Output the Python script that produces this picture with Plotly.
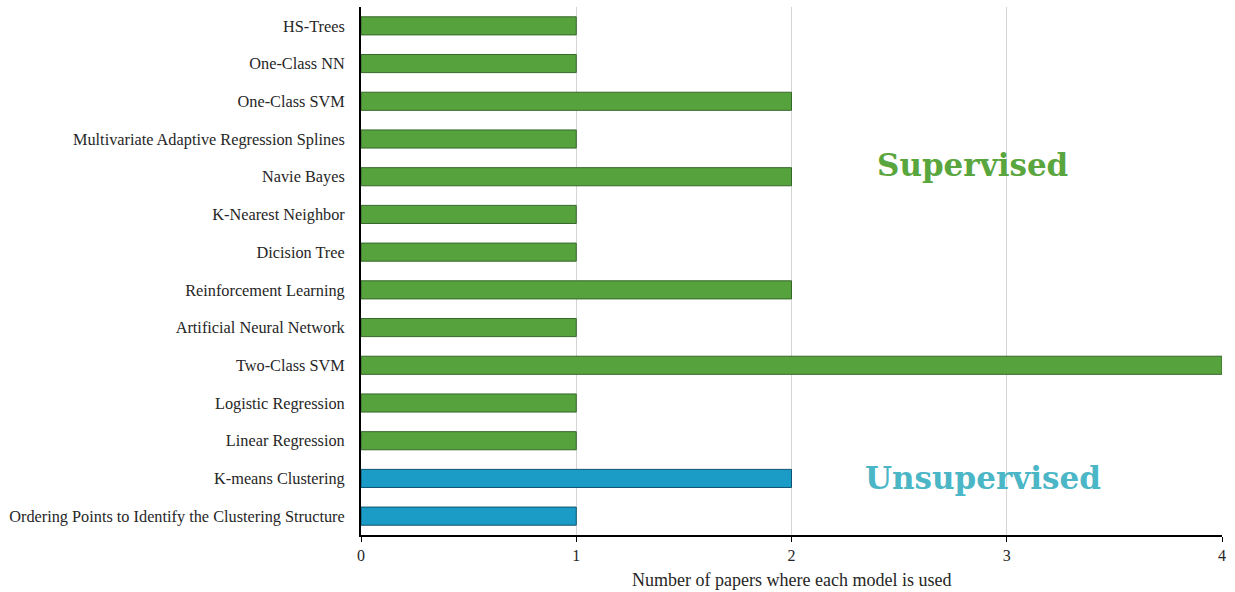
import plotly.graph_objects as go

# Models, listed bottom to top as they appear on the category axis
supervised_models = [
    "Linear Regression", "Logistic Regression", "Two-Class SVM",
    "Artificial Neural Network", "Reinforcement Learning", "Dicision Tree",
    "K-Nearest Neighbor", "Navie Bayes", "Multivariate Adaptive Regression Splines",
    "One-Class SVM", "One-Class NN", "HS-Trees",
]
supervised_counts = [1, 1, 4, 1, 2, 1, 1, 2, 1, 2, 1, 1]

unsupervised_models = [
    "Ordering Points to Identify the Clustering Structure", "K-means Clustering",
]
unsupervised_counts = [1, 2]

category_order = unsupervised_models + supervised_models
x_ticks = [0, 1, 2, 3, 4]
x_title = "Number of papers where each model is used"

SERIF = "Liberation Serif, Times New Roman, serif"
WIDE_SERIF = "DejaVu Serif, Georgia, serif"

fig = go.Figure()
fig.add_trace(go.Bar(
    x=unsupervised_counts, y=unsupervised_models, orientation="h",
    marker=dict(color="#1a9cc6", line=dict(color="#0d5470", width=1)),
    width=0.48, name="Unsupervised", showlegend=False,
))
fig.add_trace(go.Bar(
    x=supervised_counts, y=supervised_models, orientation="h",
    marker=dict(color="#56a23c", line=dict(color="#36672a", width=1)),
    width=0.48, name="Supervised", showlegend=False,
))

fig.add_annotation(
    x=2.84, y=9.31, xref="x", yref="y", text="<b>Supervised</b>",
    showarrow=False, font=dict(family=WIDE_SERIF, size=31, color="#5aa63e"),
)
fig.add_annotation(
    x=2.89, y=1.01, xref="x", yref="y", text="<b>Unsupervised</b>",
    showarrow=False, font=dict(family=WIDE_SERIF, size=31, color="#4ab6c6"),
)
# Axis title placed as a paper-anchored annotation below the tick labels
fig.add_annotation(
    x=0.5, y=-0.085, xref="paper", yref="paper", text=x_title,
    showarrow=False, yanchor="middle",
    font=dict(family=SERIF, size=18, color="#262626"),
)

fig.update_layout(
    width=1235, height=592,
    margin=dict(l=361, r=13, t=7, b=57),
    paper_bgcolor="white", plot_bgcolor="white",
    barmode="overlay",
    font=dict(family=SERIF, size=16, color="#262626"),
    xaxis=dict(
        range=[0, 4], tickvals=x_ticks, ticktext=[str(v) for v in x_ticks],
        showgrid=True, gridcolor="#d4d4d4", gridwidth=1,
        showline=True, linecolor="black", linewidth=2,
        ticks="outside", ticklen=5, tickcolor="black", tickwidth=1,
        zeroline=False, automargin=False,
        tickfont=dict(family=SERIF, size=16, color="#262626"),
    ),
    yaxis=dict(
        categoryorder="array", categoryarray=category_order,
        range=[-0.5, len(category_order) - 0.5],
        showline=True, linecolor="black", linewidth=2,
        showgrid=False, ticks="", ticklabelstandoff=11, automargin=False,
        tickfont=dict(family=SERIF, size=16.3, color="#262626"),
    ),
)

fig.write_html("out.html")
